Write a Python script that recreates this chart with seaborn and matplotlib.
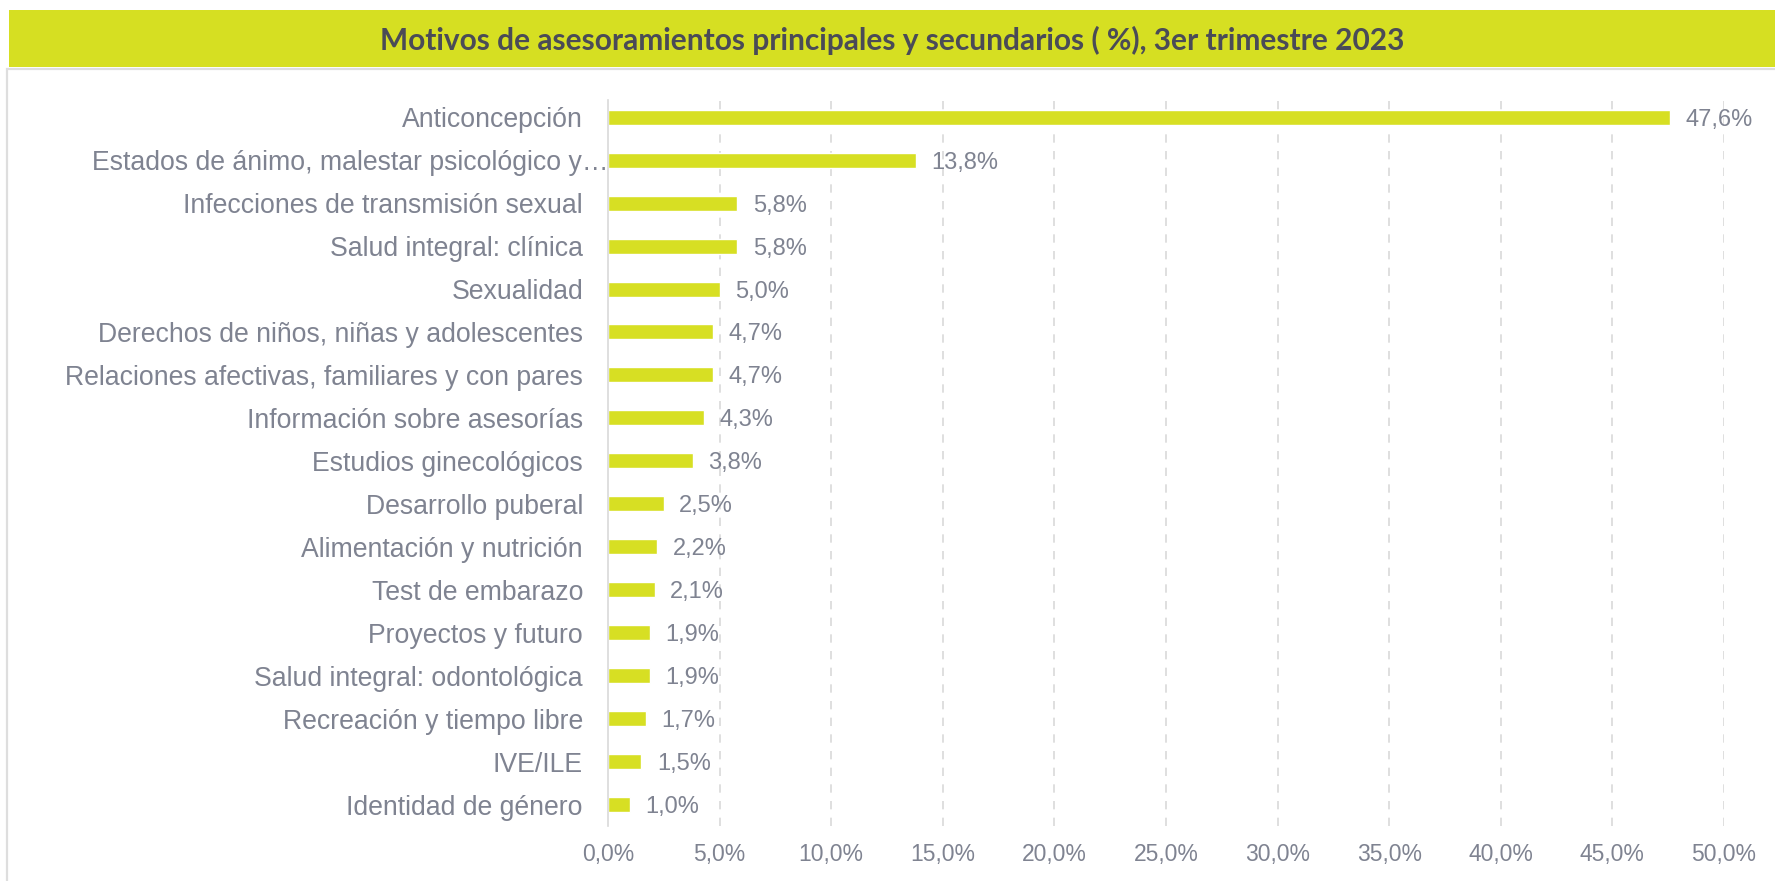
import matplotlib
matplotlib.use("Agg")
import matplotlib.pyplot as plt
import matplotlib.transforms as mtransforms
from matplotlib.patches import Rectangle
import pandas as pd
import seaborn as sns

# Data
categories = [
    "Anticoncepción",
    "Estados de ánimo, malestar psicológico y…",
    "Infecciones de transmisión sexual",
    "Salud integral: clínica",
    "Sexualidad",
    "Derechos de niños, niñas y adolescentes",
    "Relaciones afectivas, familiares y con pares",
    "Información sobre asesorías",
    "Estudios ginecológicos",
    "Desarrollo puberal",
    "Alimentación y nutrición",
    "Test de embarazo",
    "Proyectos y futuro",
    "Salud integral: odontológica",
    "Recreación y tiempo libre",
    "IVE/ILE",
    "Identidad de género",
]
values = [47.6, 13.8, 5.8, 5.8, 5.0, 4.7, 4.7, 4.3, 3.8, 2.5, 2.2, 2.1, 1.9, 1.9, 1.7, 1.5, 1.0]
x_ticks = [0, 5, 10, 15, 20, 25, 30, 35, 40, 45, 50]
title = "Motivos de asesoramientos principales y secundarios ( %), 3er trimestre 2023"

BAR = "#D7DF23"
TEXT = "#7F8391"
TITLE_TXT = "#4A4B57"
GRID = "#D9D9D9"

df = pd.DataFrame({"motivo": categories, "pct": values})

sns.set_theme(style="white")
plt.rcParams["font.family"] = ["Liberation Sans", "DejaVu Sans"]

W, H = 1775, 881
fig = plt.figure(figsize=(W / 100, H / 100), dpi=100)
ax = fig.add_axes([608 / W, 1 - 826 / H, (1724 - 608) / W, (826 - 100) / H])

# frame + title band
fig.patches.append(Rectangle((7 / W, -0.05), 1.1, 1 - 69 / H + 0.05, transform=fig.transFigure,
                             facecolor="white", edgecolor="#DEDEDE", linewidth=1.6, zorder=-2))
fig.patches.append(Rectangle((9 / W, 1 - 67 / H), 1, 57 / H, transform=fig.transFigure,
                             facecolor="#D6DF22", edgecolor="none", zorder=-1))
fig.text((9 + W) / 2 / W, 1 - 40 / H, title, ha="center", va="center",
         fontsize=21.5, fontweight="bold", color=TITLE_TXT, family=["Lato", "DejaVu Sans"])

sns.barplot(data=df, x="pct", y="motivo", color=BAR, saturation=1, width=0.35, ax=ax, orient="h")

ax.set_xlim(0, 50)
ax.set_ylim(16.5, -0.4)
ax.set_xticks(x_ticks)
ax.set_xticklabels([f"{t:.1f}%".replace(".", ",") for t in x_ticks])
ax.set_xlabel("")
ax.set_ylabel("")
ax.set_facecolor("none")

for s in ["top", "right", "bottom"]:
    ax.spines[s].set_visible(False)
ax.spines["left"].set_color(GRID)
ax.spines["left"].set_linewidth(1.2)

for t in x_ticks[1:]:
    ax.axvline(t, color=GRID, linestyle=(0, (5, 5)), linewidth=1.2, zorder=0)

ax.tick_params(axis="x", length=0, pad=12, labelsize=16.5, labelcolor=TEXT)
ax.tick_params(axis="y", length=0, pad=18, labelsize=19.2, labelcolor=TEXT)

# the truncated label sits right against the axis
lbl = ax.get_yticklabels()[1]
lbl.set_transform(lbl.get_transform() + mtransforms.ScaledTranslation(0.25, 0, fig.dpi_scale_trans))

val_labels = ax.bar_label(ax.containers[0], labels=[f"{v:.1f}%".replace(".", ",") for v in values],
                          padding=11, fontsize=17, color=TEXT)
for t in val_labels:
    t.set_va("center_baseline")

fig.savefig("out.png", dpi=100)
